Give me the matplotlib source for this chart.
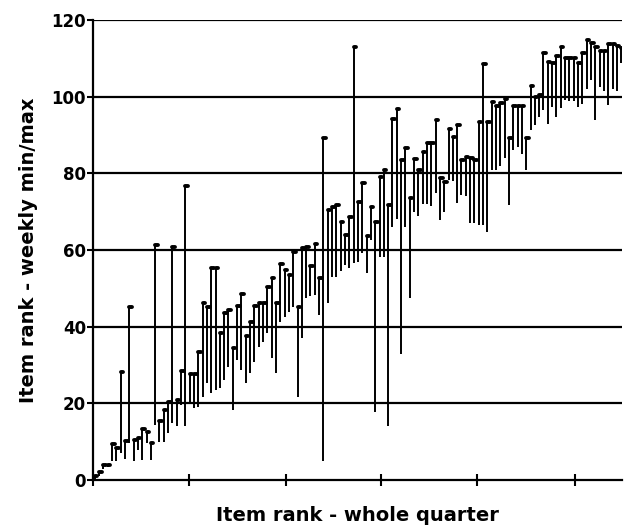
import numpy as np
import matplotlib
matplotlib.use('Agg')
import matplotlib.pyplot as plt

## data: weekly rank range per item, ordered by whole-quarter rank ###########
maxs = [1, 2, 4, 4, 9.5, 8.3, 28.3, 10.3, 45.2, 10.4,
        11, 13.2, 12.6, 9.6, 61.3, 15.5, 18.3, 20.4, 60.9, 20.9,
        28.4, 76.7, 27.6, 27.6, 33.5, 46.3, 45.2, 55.4, 55.4, 38.4,
        43.5, 44.3, 34.4, 45.4, 48.5, 37.6, 41.3, 45.4, 46.3, 46.3,
        50.4, 52.6, 46.3, 56.3, 54.8, 53.5, 59.6, 45.2, 60.4, 60.7,
        55.7, 61.6, 52.8, 89.2, 70.5, 71.3, 71.7, 67.4, 63.9, 68.7,
        112.9, 72.4, 77.4, 63.7, 71.3, 67.4, 79.1, 80.9, 71.7, 94.3,
        96.7, 83.5, 86.5, 73.5, 83.7, 81, 85.6, 87.8, 87.8, 93.9,
        78.7, 77.8, 91.5, 89.6, 92.6, 83.5, 84.3, 83.9, 83.5, 93.5,
        108.5, 93.5, 98.7, 97.6, 98.3, 99.3, 89.1, 97.6, 97.6, 97.6,
        89.1, 102.8, 100, 100.4, 111.5, 109.1, 108.7, 110.6, 112.9, 110,
        110, 110, 108.9, 111.3, 114.8, 113.9, 112.9, 112, 112, 113.7,
        113.7, 113.2, 112.6]
mins = [0, 1, 3, 3.5, 5, 5, 7, 5.6, 9.6, 5,
        7.8, 5.2, 9.6, 5.2, 14.3, 10, 10, 12.2, 15, 14,
        19.6, 14, 20, 18.8, 19.1, 21.7, 25.2, 22.6, 23.5, 23.9,
        26.1, 29.6, 18.3, 31.3, 28.7, 25.2, 27.8, 30.9, 34.8, 36,
        38.3, 31.7, 27.8, 41.3, 42.6, 43.9, 45.2, 21.7, 37, 47.4,
        48, 48.3, 43, 5, 46.1, 53, 53, 54.5, 56, 55.2,
        56.5, 57, 59.1, 53.9, 62.6, 17.8, 58.3, 58.3, 14, 66,
        68, 33, 66, 47.4, 70, 69, 72, 72, 71.5, 75,
        67.8, 70, 78.3, 78, 72.2, 74.3, 74, 67, 67, 66.5,
        66.5, 64.8, 80.9, 81, 82, 84, 71.7, 86, 87, 85,
        80.9, 91.3, 92.6, 94.8, 96.5, 93, 97.4, 94.8, 97, 99.1,
        99, 99, 97.4, 98, 102, 104.3, 93.9, 102.6, 101.5, 97.8,
        102, 101.5, 108.7]
xTicks = [0.6, 22.8, 45.3, 67.3, 89.6, 112.2]
yTicks = [0, 20, 40, 60, 80, 100, 120]

items = np.arange(1, len(maxs) + 1)

## plot #######################################################################
fig = plt.figure(figsize=(6.29, 5.29), dpi=100, facecolor='white')
ax = fig.add_axes([93/629, 49/529, 529/629, 460/529])

# horizontal grid
for yv in yTicks[1:]:
    ax.axhline(yv, color='black', lw=1.6, zorder=1)

ax.vlines(items, mins, maxs, color='black', lw=1.4, zorder=3)
ax.hlines(maxs, items, items + 0.6, color='black', lw=2.8,
          capstyle='round', zorder=4)

ax.set_xlim(0.6, 123.2)
ax.set_ylim(0, 120)
ax.set_xticks(xTicks)
ax.set_xticklabels([])
ax.set_yticks(yTicks)

for s in ['top', 'right']:
    ax.spines[s].set_visible(False)
for s in ['left', 'bottom']:
    ax.spines[s].set_linewidth(1.6)

ax.tick_params(axis='x', direction='inout', length=9, width=1.5)
ax.tick_params(axis='y', direction='out', length=4, width=1.5, pad=1,
               labelsize=12)
for lab in ax.get_yticklabels():
    lab.set_fontweight('bold')

ax.set_xlabel('Item rank - whole quarter', fontsize=14, fontweight='bold',
              labelpad=11)
ax.set_ylabel('Item rank - weekly min/max', fontsize=14, fontweight='bold',
              labelpad=10)

plt.savefig('out.png', dpi=100)
